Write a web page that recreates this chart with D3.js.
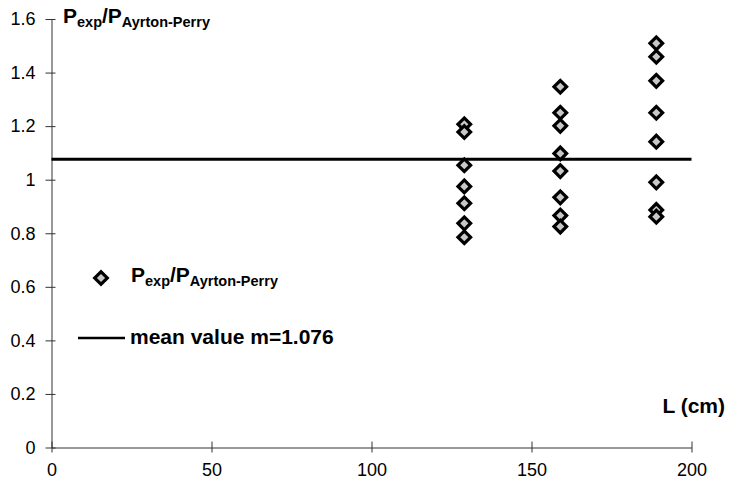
<!DOCTYPE html>
<html>
<head>
<meta charset="utf-8">
<script src="https://cdn.jsdelivr.net/npm/d3@7"></script>
<style>
  html, body { margin: 0; padding: 0; background: #fff; }
  svg { display: block; font-family: "Liberation Sans", Arial, sans-serif; }
</style>
</head>
<body>
<svg id="chart" width="730" height="480"></svg>
<script>
// Measured ratio P_exp / P_Ayrton-Perry for three specimen lengths L (cm)
const lengths = [129, 159, 189];
const ratiosL129 = [1.207, 1.178, 1.054, 0.975, 0.912, 0.837, 0.785];
const ratiosL159 = [1.347, 1.250, 1.201, 1.098, 1.032, 0.934, 0.866, 0.825];
const ratiosL189 = [1.509, 1.459, 1.369, 1.250, 1.142, 0.990, 0.887, 0.862];
const meanValue = 1.076;
const xTicks = [0, 50, 100, 150, 200];
const yTicks = [0, 0.2, 0.4, 0.6, 0.8, 1, 1.2, 1.4, 1.6];

const points = [];
[ratiosL129, ratiosL159, ratiosL189].forEach((vals, i) => {
  vals.forEach(v => points.push({ L: lengths[i], r: v }));
});

const svg = d3.select("#chart");
const x = d3.scaleLinear().domain([0, 200]).range([51.5, 691.5]);
const y = d3.scaleLinear().domain([0, 1.6]).range([447.5, 19]);

// axes
const xAxis = d3.axisBottom(x).tickValues(xTicks).tickFormat(d3.format("d"))
  .tickSizeOuter(0).tickSizeInner(5).tickPadding(11);
const gx = svg.append("g").attr("transform", `translate(0,${y(0)})`).call(xAxis);
gx.select(".domain").attr("stroke", "#333");
gx.selectAll(".tick line").attr("y1", -6).attr("y2", 5).attr("stroke", "#333");
gx.selectAll(".tick text").attr("font-size", 18).attr("fill", "#000")
  .attr("font-family", "Liberation Sans, Arial, sans-serif");

const yAxis = d3.axisLeft(y).tickValues(yTicks).tickFormat(d => d3.format("")(+d.toFixed(1)))
  .tickSizeOuter(0).tickSizeInner(6).tickPadding(10);
const gy = svg.append("g").attr("transform", `translate(${x(0)},0)`).call(yAxis);
gy.select(".domain").attr("stroke", "#333");
gy.selectAll(".tick line").attr("x1", -6).attr("x2", 4).attr("stroke", "#333");
gy.selectAll(".tick text").attr("font-size", 18).attr("fill", "#000")
  .attr("font-family", "Liberation Sans, Arial, sans-serif");

// mean value line
svg.append("line")
  .attr("x1", x(0)).attr("x2", x(200))
  .attr("y1", y(meanValue)).attr("y2", y(meanValue))
  .attr("stroke", "#000").attr("stroke-width", 3);

// diamond markers
const diamond = d3.symbol().type(d3.symbolSquare).size(80);
function drawDiamond(sel) {
  sel.attr("d", diamond)
    .attr("fill", "#c8c8c8")
    .attr("stroke", "#000")
    .attr("stroke-width", 3.2);
}
svg.append("g").selectAll("path").data(points).join("path")
  .attr("transform", d => `translate(${x(d.L)},${y(d.r)}) rotate(45)`)
  .call(drawDiamond);

// ratio label with subscripts
function ratioLabel(g, px, py) {
  const t = g.append("text").attr("x", px).attr("y", py)
    .attr("font-weight", "bold").attr("font-size", 21).attr("fill", "#000");
  t.append("tspan").text("P");
  t.append("tspan").attr("font-size", 14.5).attr("dy", 4).text("exp");
  t.append("tspan").attr("dy", -4).text("/P");
  t.append("tspan").attr("font-size", 14.5).attr("dy", 4).text("Ayrton-Perry");
}
ratioLabel(svg, 63, 23);

// axis title
svg.append("text").attr("x", 725).attr("y", 413).attr("text-anchor", "end")
  .attr("font-weight", "bold").attr("font-size", 21).text("L (cm)");

// legend
svg.append("path")
  .attr("transform", "translate(101,278) rotate(45)")
  .call(drawDiamond);
ratioLabel(svg, 131, 282);

svg.append("line").attr("x1", 78).attr("x2", 125).attr("y1", 338).attr("y2", 338)
  .attr("stroke", "#000").attr("stroke-width", 2.5);
svg.append("text").attr("x", 130).attr("y", 344)
  .attr("font-weight", "bold").attr("font-size", 21).text("mean value m=" + meanValue);
</script>
</body>
</html>
